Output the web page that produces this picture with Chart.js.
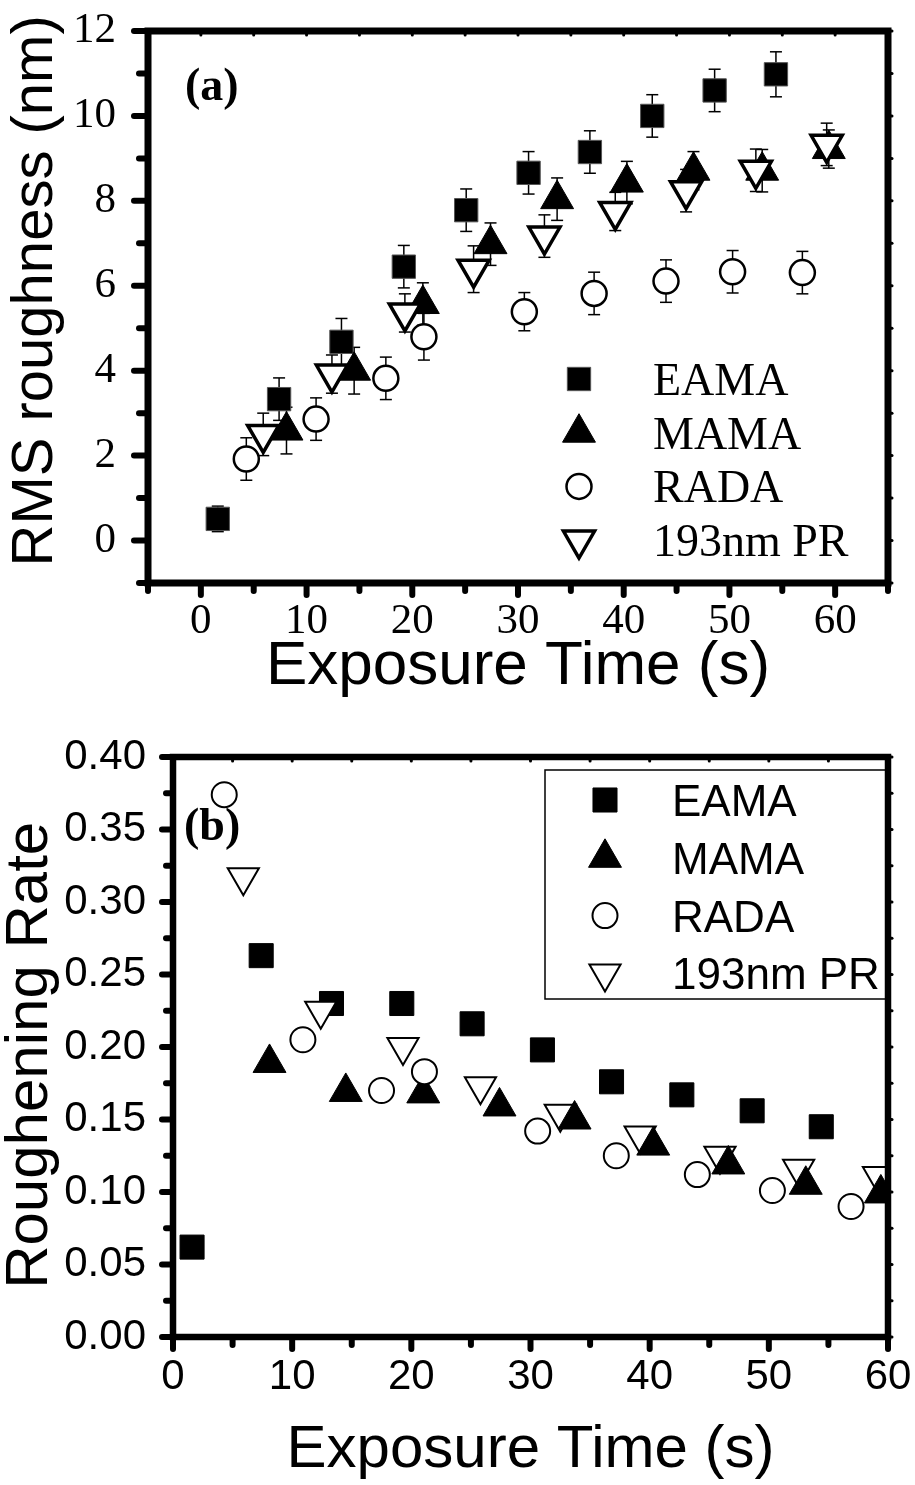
<!DOCTYPE html>
<html>
<head>
<meta charset="utf-8">
<script src="https://cdn.jsdelivr.net/npm/chart.js@4.4.1/dist/chart.umd.min.js"></script>
<style>
  body { margin: 0; background: #fff; }
  canvas { position: absolute; left: 0; }
  #rmsChart { top: 0; }
  #rateChart { top: 720px; }
</style>
</head>
<body>
<canvas id="rmsChart" width="915" height="720"></canvas>
<canvas id="rateChart" width="915" height="765"></canvas>
<script>
// exposure times (s) of each resist, shared by both panels
const eamaTime = [1.6, 7.4, 13.3, 19.2, 25.1, 31.0, 36.8, 42.7, 48.6, 54.4];
const mamaTime = [8.1, 14.5, 21.0, 27.4, 33.7, 40.3, 46.6, 53.1, 59.4];
const radaTime = [4.3, 10.9, 17.5, 21.1, 30.6, 37.2, 44.0, 50.3, 56.9];
const prTime = [5.9, 12.4, 19.3, 25.8, 32.5, 39.2, 45.9, 52.5, 59.2];

// (a) RMS roughness (nm) and error bars
const eamaRms = [0.51, 3.33, 4.68, 6.45, 7.78, 8.66, 9.15, 10.0, 10.6, 10.98];
const mamaRms = [2.59, 4.0, 5.57, 6.98, 8.04, 8.43, 8.71, 8.71, 9.22];
const radaRms = [1.92, 2.86, 3.82, 4.8, 5.39, 5.82, 6.11, 6.33, 6.31];
const prRms = [2.5, 3.92, 5.36, 6.39, 7.17, 7.75, 8.24, 8.72, 9.33];
const eamaErr = [0.3, 0.5, 0.55, 0.5, 0.5, 0.5, 0.5, 0.5, 0.5, 0.53];
const mamaErr = [0.55, 0.55, 0.5, 0.5, 0.5, 0.5, 0.45, 0.5, 0.45];
const radaErr = [0.5, 0.5, 0.5, 0.55, 0.45, 0.5, 0.5, 0.5, 0.5];
const prErr = [0.5, 0.45, 0.45, 0.55, 0.5, 0.45, 0.5, 0.5, 0.5];

// (b) roughening rate
const eamaRate = [0.062, 0.263, 0.230, 0.230, 0.216, 0.198, 0.176, 0.167, 0.156, 0.145];
const mamaRate = [0.189, 0.169, 0.168, 0.159, 0.150, 0.132, 0.119, 0.105, 0.099];
const radaRate = [0.374, 0.205, 0.170, 0.183, 0.142, 0.125, 0.112, 0.101, 0.090];
const prRate = [0.317, 0.225, 0.200, 0.173, 0.154, 0.139, 0.125, 0.116, 0.111];

const seriesNames = ["EAMA", "MAMA", "RADA", "193nm PR"];

const SERIF = '"Liberation Serif", "Times New Roman", serif';
const SANS = '"Liberation Sans", Arial, sans-serif';

function points(times, values) {
    return times.map((t, i) => ({ x: t, y: values[i] }));
}

function strokeLine(ctx, x1, y1, x2, y2) {
    ctx.beginPath();
    ctx.moveTo(x1, y1);
    ctx.lineTo(x2, y2);
    ctx.stroke();
}

// vertical error bars with caps, drawn under the markers
const errorBars = {
    id: "errorBars",
    beforeDatasetsDraw(chart, args, opts) {
        const { ctx, scales: { x, y } } = chart;
        ctx.save();
        ctx.strokeStyle = "#000";
        ctx.lineWidth = opts.width;
        chart.data.datasets.forEach((ds) => {
            if (!ds.errors) return;
            ds.data.forEach((p, i) => {
                const px = x.getPixelForValue(p.x);
                const hi = y.getPixelForValue(p.y + ds.errors[i]);
                const lo = y.getPixelForValue(p.y - ds.errors[i]);
                strokeLine(ctx, px, hi, px, lo);
                strokeLine(ctx, px - opts.cap, hi, px + opts.cap, hi);
                strokeLine(ctx, px - opts.cap, lo, px + opts.cap, lo);
            });
        });
        ctx.restore();
    }
};

// legend inside the plot and the panel tag
const inlineLegend = {
    id: "inlineLegend",
    afterDraw(chart, args, o) {
        const ctx = chart.ctx;
        ctx.save();
        if (o.box) {
            ctx.strokeStyle = "#000";
            ctx.lineWidth = o.box.width;
            ctx.strokeRect(o.box.left, o.box.top, o.box.right - o.box.left, o.box.bottom - o.box.top);
        }
        ctx.textBaseline = "alphabetic";
        ctx.textAlign = "left";
        seriesNames.forEach((name, i) => {
            const ds = chart.data.datasets.find((d) => d.label === name);
            const cy = o.top + i * o.rowGap;
            ctx.fillStyle = ds.backgroundColor;
            ctx.strokeStyle = ds.borderColor;
            ctx.lineWidth = ds.borderWidth;
            Chart.helpers.drawPoint(ctx, {
                pointStyle: ds.pointStyle,
                radius: ds.pointRadius,
                rotation: ds.pointRotation || 0,
                borderWidth: ds.borderWidth
            }, o.markerX, cy);
            ctx.fillStyle = "#000";
            ctx.font = o.font;
            ctx.fillText(name, o.textX, cy + o.baselineShift);
        });
        ctx.font = o.tagFont;
        ctx.fillText(o.tag, o.tagX, o.tagY);
        ctx.restore();
    }
};

// thick box, outward major/minor ticks, small ticks on top and right
const frame = {
    id: "frame",
    afterDraw(chart, args, o) {
        const { ctx, chartArea: a, scales: { x, y } } = chart;
        ctx.save();
        ctx.strokeStyle = "#000";
        ctx.lineCap = "round";
        const xs = [];
        for (let n = Math.round(x.min / o.xMinor); n <= Math.round(x.max / o.xMinor); n++) {
            xs.push({ px: x.getPixelForValue(n * o.xMinor), major: n % 2 === 0 });
        }
        const ys = [];
        for (let n = Math.round(y.min / o.yMinor); n <= Math.round(y.max / o.yMinor); n++) {
            ys.push({ py: y.getPixelForValue(n * o.yMinor), major: n % 2 === 0 });
        }
        ctx.lineWidth = o.tickWidth;
        xs.forEach((t) => strokeLine(ctx, t.px, a.bottom, t.px, a.bottom + (t.major ? o.xMajorLen : o.xMinorLen)));
        ys.forEach((t) => strokeLine(ctx, a.left, t.py, a.left - (t.major ? o.yMajorLen : o.yMinorLen), t.py));
        ctx.lineWidth = o.smallWidth;
        xs.forEach((t) => strokeLine(ctx, t.px, a.top, t.px, a.top + o.smallLen));
        ys.forEach((t) => strokeLine(ctx, a.right, t.py, a.right + o.smallLen, t.py));
        ctx.lineCap = "butt";
        ctx.lineWidth = o.frameWidth;
        ctx.strokeRect(a.left, a.top, a.right - a.left, a.bottom - a.top);
        ctx.restore();
    }
};

function dataset(label, times, values, style) {
    return Object.assign({
        label: label,
        data: points(times, values),
        borderColor: "#000",
        showLine: false
    }, style);
}

// ---------- (a) RMS roughness ----------
new Chart(document.getElementById("rmsChart"), {
    type: "scatter",
    data: {
        datasets: [
            dataset("EAMA", eamaTime, eamaRms, { errors: eamaErr, order: 4, pointStyle: "rect", pointRadius: 16.5, backgroundColor: "#000", borderColor: "#555", borderWidth: 1 }),
            dataset("MAMA", mamaTime, mamaRms, { errors: mamaErr, order: 3, pointStyle: "triangle", pointRadius: 19, backgroundColor: "#000", borderWidth: 1 }),
            dataset("RADA", radaTime, radaRms, { errors: radaErr, order: 2, pointStyle: "circle", pointRadius: 12.5, backgroundColor: "#fff", borderWidth: 2.5 }),
            dataset("193nm PR", prTime, prRms, { errors: prErr, order: 1, pointStyle: "triangle", pointRotation: 180, pointRadius: 18, backgroundColor: "#fff", borderWidth: 3.5 })
        ]
    },
    options: {
        responsive: false,
        animation: false,
        events: [],
        layout: { padding: { left: 0, top: 31, right: 27, bottom: 0 } },
        scales: {
            x: {
                type: "linear",
                min: -5,
                max: 65,
                grid: { display: false },
                border: { display: false },
                ticks: {
                    stepSize: 5,
                    autoSkip: false,
                    maxRotation: 0,
                    padding: 0,
                    color: "#000",
                    font: { family: SERIF, size: 43, lineHeight: 1.44 },
                    callback: (v) => (v % 10 === 0 && v >= 0 && v <= 60 ? v : "")
                },
                title: {
                    display: true,
                    text: "Exposure Time (s)",
                    color: "#000",
                    font: { family: SANS, size: 62, lineHeight: 1 },
                    padding: { top: 0, bottom: 22 }
                },
                afterFit: (s) => { s.height = 137; }
            },
            y: {
                type: "linear",
                min: -1,
                max: 12,
                grid: { display: false },
                border: { display: false },
                ticks: {
                    stepSize: 1,
                    autoSkip: false,
                    padding: 24,
                    color: "#000",
                    font: { family: SERIF, size: 43, lineHeight: 0.2 },
                    callback: (v) => (v % 2 === 0 && v >= 0 ? v : "")
                },
                title: {
                    display: true,
                    text: "  RMS roughness (nm)",
                    color: "#000",
                    font: { family: SANS, size: 58, lineHeight: 1 },
                    padding: { top: 7, bottom: 0 }
                },
                afterFit: (s) => { s.width = 148; }
            }
        },
        plugins: {
            legend: { display: false },
            tooltip: { enabled: false },
            errorBars: { width: 1.5, cap: 6 },
            inlineLegend: {
                markerX: 579, top: 379, rowGap: 53.7, textX: 653, baselineShift: 16,
                font: "46px " + SERIF,
                tag: "(a)", tagX: 185, tagY: 100, tagFont: "bold 46px " + SERIF
            },
            frame: {
                xMinor: 5, yMinor: 1, tickWidth: 6,
                xMajorLen: 12, xMinorLen: 8, yMajorLen: 14, yMinorLen: 9,
                smallWidth: 3, smallLen: 4, frameWidth: 7
            }
        }
    },
    plugins: [errorBars, inlineLegend, frame]
});

// ---------- (b) roughening rate ----------
new Chart(document.getElementById("rateChart"), {
    type: "scatter",
    data: {
        datasets: [
            dataset("EAMA", eamaTime, eamaRate, { order: 4, pointStyle: "rect", pointRadius: 17, backgroundColor: "#000", borderWidth: 1 }),
            dataset("MAMA", mamaTime, mamaRate, { order: 2, pointStyle: "triangle", pointRadius: 19, backgroundColor: "#000", borderWidth: 1 }),
            dataset("RADA", radaTime, radaRate, { order: 1, pointStyle: "circle", pointRadius: 12.5, backgroundColor: "#fff", borderWidth: 2 }),
            dataset("193nm PR", prTime, prRate, { order: 3, pointStyle: "triangle", pointRotation: 180, pointRadius: 18, backgroundColor: "#fff", borderWidth: 2 })
        ]
    },
    options: {
        responsive: false,
        animation: false,
        events: [],
        layout: { padding: { left: 0, top: 37, right: 27, bottom: 0 } },
        scales: {
            x: {
                type: "linear",
                min: 0,
                max: 60,
                grid: { display: false },
                border: { display: false },
                ticks: {
                    stepSize: 10,
                    autoSkip: false,
                    maxRotation: 0,
                    padding: 0,
                    color: "#000",
                    font: { family: SANS, size: 42, lineHeight: 1.55 }
                },
                title: {
                    display: true,
                    text: "Exposure Time (s)",
                    color: "#000",
                    font: { family: SANS, size: 60, lineHeight: 1 },
                    padding: { top: 0, bottom: 5 }
                },
                afterFit: (s) => { s.height = 148; }
            },
            y: {
                type: "linear",
                min: 0,
                max: 0.4,
                grid: { display: false },
                border: { display: false },
                ticks: {
                    stepSize: 0.05,
                    autoSkip: false,
                    padding: 19,
                    color: "#000",
                    font: { family: SANS, size: 42, lineHeight: 0.2 },
                    callback: (v) => v.toFixed(2)
                },
                title: {
                    display: true,
                    text: "Roughening Rate ",
                    color: "#000",
                    font: { family: SANS, size: 60, lineHeight: 1 },
                    padding: { top: 0, bottom: 0 }
                },
                afterFit: (s) => { s.width = 173; }
            }
        },
        plugins: {
            legend: { display: false },
            tooltip: { enabled: false },
            inlineLegend: {
                box: { left: 545, top: 50, right: 889, bottom: 279, width: 1.5 },
                markerX: 605, top: 80, rowGap: 57.8, textX: 672, baselineShift: 16,
                font: "44px " + SANS,
                tag: "(b)", tagX: 184, tagY: 120, tagFont: "bold 46px " + SERIF
            },
            frame: {
                xMinor: 5, yMinor: 0.025, tickWidth: 6,
                xMajorLen: 12, xMinorLen: 8, yMajorLen: 11, yMinorLen: 7,
                smallWidth: 3, smallLen: 4, frameWidth: 6.5
            }
        }
    },
    plugins: [errorBars, inlineLegend, frame]
});
</script>
</body>
</html>
